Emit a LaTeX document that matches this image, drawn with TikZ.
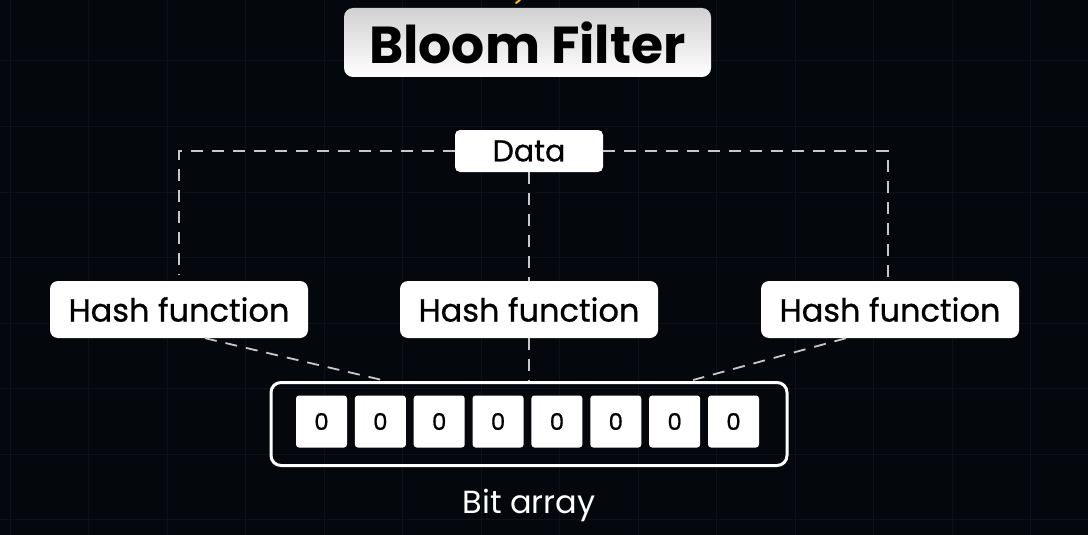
\documentclass[tikz,border=0pt]{standalone}
\usepackage{fontspec}
\setmainfont{Poppins}
\newfontfamily\medfont{Poppins}[FakeBold=0.8]
\usepackage{tikz}
\usetikzlibrary{positioning,calc,shapes}
\definecolor{bgcol}{RGB}{4,8,12}
\definecolor{gridcol}{RGB}{13,18,24}
\definecolor{dashcol}{RGB}{200,200,200}
\definecolor{sparkcol}{RGB}{250,190,20}
\tikzset{
  hashbox/.style={
    rectangle,
    rounded corners=8pt,
    fill=white,
    minimum width=258pt,
    minimum height=57pt,
    text=black,
    font=\medfont\fontsize{32}{35}\selectfont,
    inner sep=0pt},
  bitcell/.style={
    rectangle,
    rounded corners=3pt,
    fill=white,
    minimum width=51pt,
    minimum height=52pt,
    text=black,
    font=\medfont\fontsize{23}{25}\selectfont,
    inner sep=0pt},
  dline/.style={draw=dashcol, line width=1.8pt, dash pattern=on 12pt off 9pt},
}

\begin{document}
\begin{tikzpicture}[
    x=1pt, y=-1pt,
    titlebox/.style={rectangle, rounded corners=9pt, top color=black!18,
      bottom color=white, minimum width=367pt, minimum height=69pt,
      inner sep=0pt, text=black, font=\bfseries\fontsize{52}{58}\selectfont},
    databox/.style={rectangle, rounded corners=5pt, fill=white,
      minimum width=148pt, minimum height=42pt, inner sep=0pt,
      text=black, font=\medfont\fontsize{30}{32}\selectfont},
    arraybox/.style={rectangle, rounded corners=10pt, draw=white,
      line width=3pt, minimum width=516pt, minimum height=83pt}
    ]

    %background
    \fill[bgcol] (0,0) rectangle (1088,535);
    \useasboundingbox (0,0) rectangle (1088,535);
    \foreach \gx in {10,88.5,...,1088}
      \draw[gridcol, line width=1pt] (\gx,0) -- (\gx,535);
    \foreach \gy in {61,126.5,...,535}
      \draw[gridcol, line width=1pt] (0,\gy) -- (1088,\gy);

    %title
    \draw[sparkcol, line width=2pt, line cap=round] (516,3) -- (520,0);
    \node[titlebox] (title) at (527.5,42.5) {Bloom Filter};

    %data and hash functions
    \node[databox] (data) at (529,151) {Data};
    \node[hashbox] (hashA) at (179,309.5) {Hash function};
    \node[hashbox] (hashB) at (529,309.5) {Hash function};
    \node[hashbox] (hashC) at (890,309.5) {Hash function};

    %bit array
    \node[arraybox] (bits) at (529,424) {};
    \foreach \i in {0,...,7}
      \node[bitcell] (cell\i) at ({321.5+\i*58.86},421.5) {0};
    \node[below=19pt of bits, text=white,
      font=\fontsize{32}{36}\selectfont] (bitlabel) {Bit array};

    %connectors
    \coordinate (inA) at (382,380);
    \coordinate (inC) at (693,380);
    \draw[dline] (data.west) -| ([yshift=6pt]hashA.north);
    \draw[dline] (data.east) -| ([xshift=-2pt,yshift=4pt]hashC.north);
    \draw[dline] (data.south) -- (hashB.north);
    \draw[dline] (hashB.south) -- (bits.north);
    \draw[dline] ([xshift=26pt]hashA.south) -- (inA);
    \draw[dline] ([xshift=-44pt]hashC.south) -- (inC);

\end{tikzpicture}
\end{document}
